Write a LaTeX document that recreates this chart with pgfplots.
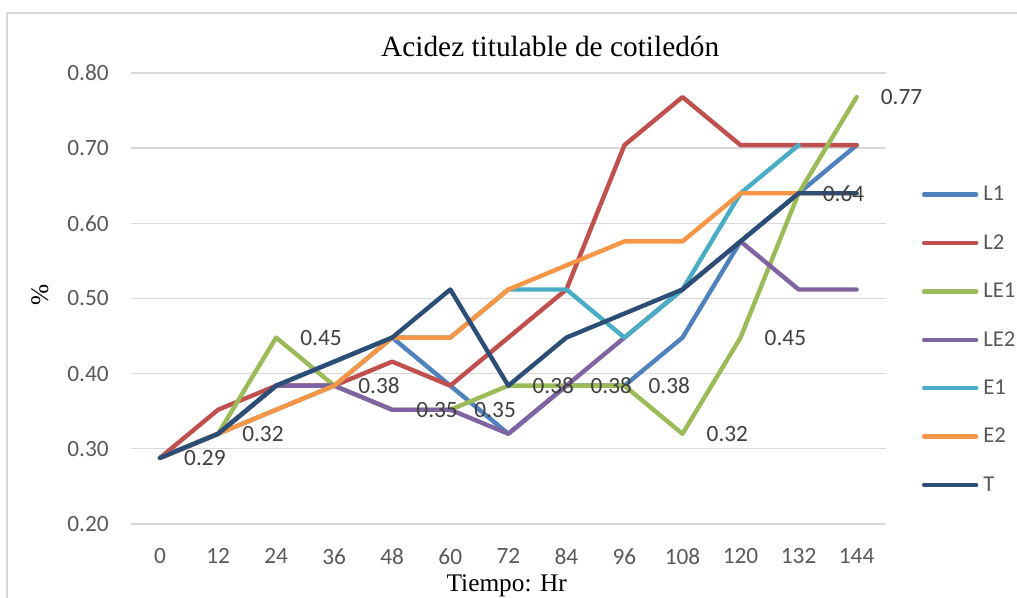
\documentclass[border=0pt]{standalone}
\usepackage{fontspec}
\setmainfont{Carlito}
\newfontfamily\tnr{Liberation Serif}
\usepackage{pgfplots}
\usepackage{pgfplotstable}
\pgfplotsset{compat=1.18}

\definecolor{cL1}{HTML}{4F81BD}
\definecolor{cL2}{HTML}{C0504D}
\definecolor{cLE1}{HTML}{9BBB59}
\definecolor{cLE2}{HTML}{8064A2}
\definecolor{cE1}{HTML}{4BACC6}
\definecolor{cE2}{HTML}{F79646}
\definecolor{cT}{HTML}{2C4D75}
\definecolor{gridc}{HTML}{D9D9D9}
\definecolor{tickc}{HTML}{595959}
\definecolor{labc}{HTML}{404040}

% acidez (%) por tiempo (Hr)
\pgfplotstableread{
t    L1    L2    LE1   LE2   E1    E2    T
0    0.288 0.288 0.288 0.288 0.288 0.288 0.288
12   0.320 0.352 0.320 0.320 0.320 0.320 0.320
24   0.384 0.384 0.448 0.384 0.352 0.352 0.384
36   0.416 0.384 0.384 0.384 0.384 0.384 0.416
48   0.448 0.416 0.352 0.352 0.448 0.448 0.448
60   0.384 0.384 0.352 0.352 0.448 0.448 0.512
72   0.320 0.448 0.384 0.320 0.512 0.512 0.384
84   0.384 0.512 0.384 0.384 0.512 0.544 0.448
96   0.384 0.704 0.384 0.448 0.448 0.576 0.480
108  0.448 0.768 0.320 0.512 0.512 0.576 0.512
120  0.576 0.704 0.448 0.576 0.640 0.640 0.576
132  0.640 0.704 0.640 0.512 0.704 0.640 0.640
144  0.704 0.704 0.768 0.512 nan   0.640 0.640
}\acidez

\begin{document}
\begin{tikzpicture}[x=1pt,y=1pt]
\useasboundingbox (0,0) rectangle (762.75,448.5);
\clip (0,0) rectangle (762.75,448.5);
\draw[gridc, line width=1.3pt] (5.5,-5) -- (5.5,438.5) -- (775,438.5);
\begin{axis}[
    at={(98.25pt,55.5pt)}, anchor=south west,
    scale only axis, width=566pt, height=338.25pt,
    xmin=-6, xmax=150, ymin=0.2, ymax=0.8,
    xtick={0,12,24,36,48,60,72,84,96,108,120,132,144},
    ytick={0.2,0.3,0.4,0.5,0.6,0.7,0.8},
    yticklabel={\pgfmathprintnumber[fixed, fixed zerofill, precision=2]{\tick}},
    /pgf/number format/assume math mode=true,
    axis line style={draw=none}, major tick length=0pt,
    ymajorgrids, grid style={gridc, line width=1pt},
    tick label style={font=\fontsize{17.5}{17.5}\selectfont, text=tickc, inner sep=0pt},
    yticklabel style={anchor=east, xshift=-16.5pt},
    xticklabel style={anchor=north, yshift=-18pt},
    title={Acidez titulable de cotiledón},
    title style={at={(axis description cs:0.5555,1.0193)}, anchor=base, inner sep=0pt,
        font=\tnr\fontsize{22}{22}\selectfont},
    xlabel={Tiempo: Hr},
    xlabel style={at={(axis description cs:0.4978,-0.149)}, anchor=base, inner sep=0pt,
        font=\tnr\fontsize{19}{19}\selectfont},
    ylabel={\%},
    ylabel style={at={(axis description cs:-0.1206,0.5078)}, anchor=center, inner sep=0pt,
        font=\tnr\fontsize{19}{19}\selectfont},
    legend style={at={(axis description cs:1.0477,0.4086)}, anchor=west, draw=none, fill=none,
        inner sep=0pt, font=\fontsize{17}{17}\selectfont, text=tickc, row sep=23.8pt,
        nodes={inner sep=0pt},
        /tikz/every odd column/.append style={column sep=3.75pt}},
    legend cell align=left,
    legend image code/.code={\draw[#1, line cap=round] (1.5pt,0pt) -- (40.5pt,0pt);},
    every axis plot/.append style={line width=3.3pt, line join=round, line cap=round},
    no markers,
]
\addplot[cL1]  table[x=t, y=L1]  {\acidez};
\addplot[cL2]  table[x=t, y=L2]  {\acidez};
\addplot[cLE1] table[x=t, y=LE1] {\acidez};
\addplot[cLE2] table[x=t, y=LE2] {\acidez};
\addplot[cE1]  table[x=t, y=E1]  {\acidez};
\addplot[cE2]  table[x=t, y=E2]  {\acidez};
\addplot[cT]   table[x=t, y=T]   {\acidez};
\legend{L1, L2, LE1, LE2, E1, E2, T}
% etiquetas de LE1 encima de todo
\addplot[draw=none, forget plot, point meta=y,
    nodes near coords={\pgfmathprintnumber[fixed, fixed zerofill, precision=2]{\pgfplotspointmeta}},
    nodes near coords align={horizontal},
    every node near coord/.append style={anchor=west, inner sep=0pt, xshift=16.5pt,
        font=\fontsize{17.5}{17.5}\selectfont, text=labc}]
    table[x=t, y=LE1] {\acidez};
\end{axis}
\end{tikzpicture}
\end{document}
